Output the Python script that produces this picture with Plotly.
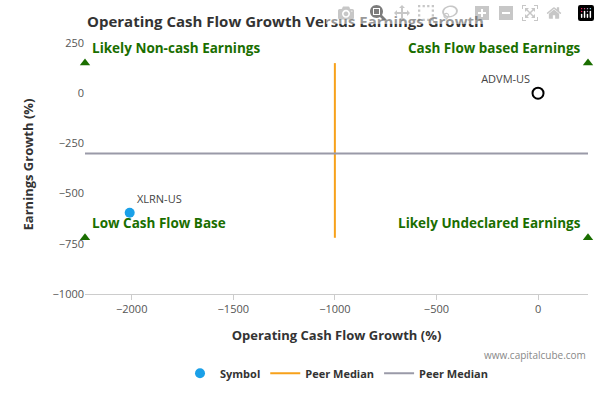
import plotly.graph_objects as go

symbols = ["ADVM-US", "XLRN-US"]
cf_growth = [0, -2010]
eps_growth = [0, -595]
peer_median_x = -1000
peer_median_y = -300
x_range = [-2230, 246]
y_range = [-1000, 290]
vline_y = [150, -720]
corner_y = [150, -720]
quad_labels = ["Likely Non-cash Earnings", "Cash Flow based Earnings", "Low Cash Flow Base", "Likely Undeclared Earnings"]

fig = go.Figure()
fig.add_trace(go.Scatter(x=[cf_growth[1]], y=[eps_growth[1]], mode="markers+text", text=[symbols[1]],
    textposition="top right", textfont=dict(size=11, color="#444"),
    marker=dict(size=10, color="#1aa0e8"), name="<b>Symbol</b>"))
fig.add_trace(go.Scatter(x=[cf_growth[0]], y=[eps_growth[0]], mode="markers+text", text=[symbols[0]],
    textposition="top left", textfont=dict(size=11, color="#444"),
    marker=dict(size=11, color="white", line=dict(color="black", width=2)), showlegend=False))
fig.add_trace(go.Scatter(x=[peer_median_x, peer_median_x], y=vline_y, mode="lines",
    line=dict(color="#f7a11a", width=2), name="<b>Peer Median</b>"))
fig.add_trace(go.Scatter(x=x_range, y=[peer_median_y, peer_median_y], mode="lines",
    line=dict(color="#9a9aa8", width=2), name="<b>Peer Median</b>"))
fig.add_trace(go.Scatter(x=[x_range[0]]*2 + [x_range[1]]*2, y=corner_y*2, mode="markers",
    marker=dict(symbol="triangle-up", size=9, color="#1a6e00"), showlegend=False, cliponaxis=False))

pos = [(x_range[0], corner_y[0], "left"), (x_range[1], corner_y[0], "right"),
       (x_range[0], corner_y[1], "left"), (x_range[1], corner_y[1], "right")]
for t, (x, y, a) in zip(quad_labels, pos):
    fig.add_annotation(x=x, y=y, text="<b>"+t+"</b>", showarrow=False, xanchor=a, yanchor="bottom",
        xshift=5 if a == "left" else -5, yshift=4, font=dict(size=13.5, color="#1a6e00"))

fig.update_layout(width=600, height=400, plot_bgcolor="white", paper_bgcolor="white",
    font=dict(family="Open Sans, DejaVu Sans", color="#333"),
    title=dict(text="<b>Operating Cash Flow Growth Versus Earnings Growth</b>", x=0.145, y=0.96,
               font=dict(size=15, color="#333")),
    margin=dict(l=85, r=12, t=35, b=92),
    xaxis=dict(range=x_range, tickvals=[-2000, -1500, -1000, -500, 0], showgrid=False, zeroline=False,
        showline=True, linecolor="#ccc", ticks="outside", tickcolor="#ccc", tickfont=dict(size=11, color="#555"),
        title=dict(text="<b>Operating Cash Flow Growth (%)</b>", font=dict(size=13))),
    yaxis=dict(range=y_range, tickvals=[250, 0, -250, -500, -750, -1000], showgrid=False, zeroline=False,
        tickfont=dict(size=11, color="#555"),
        title=dict(text="<b>Earnings Growth (%)</b>", font=dict(size=13))),
    legend=dict(orientation="h", x=0.5, xanchor="center", y=-0.25, font=dict(size=11)))
fig.add_annotation(x=1, y=-0.27, xref="paper", yref="paper", text="www.capitalcube.com", showarrow=False,
    xanchor="right", font=dict(size=10, color="#888"))
fig.write_html("out.html")
with open("out.html") as f:
    html = f.read()
html = html.replace("<body>", '<body style="margin:0;overflow:hidden">', 1)
with open("out.html", "w") as f:
    f.write(html)
